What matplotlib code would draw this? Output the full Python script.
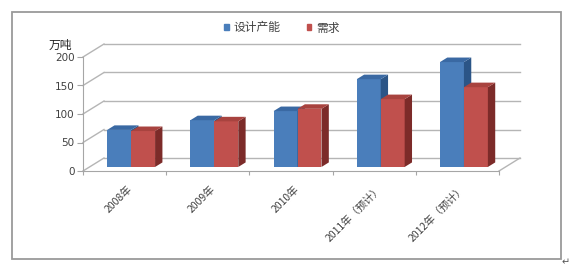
import numpy as np
import matplotlib
matplotlib.use('Agg')
import matplotlib.pyplot as plt
from matplotlib.patches import Polygon, Rectangle

plt.rcParams['font.family'] = ['Noto Sans CJK SC', 'DejaVu Sans']

# --- DATA ---
years = ['2008年', '2009年', '2010年', '2011年（预计）', '2012年（预计）']
capacity = [65, 82, 98, 154, 184]   # 设计产能
demand = [63, 80, 102, 119, 140]    # 需求
series_names = ['设计产能', '需求']
yticks = [0, 50, 100, 150, 200]

# --- STYLE ---
W, H = 585, 275
blue = ('#4a7ebb', '#3a69a3', '#2b5587')   # front, top, side
red = ('#c0504d', '#a8433f', '#7c2b29')
grid_c = '#b5b5b5'
text_c = '#404040'

fig = plt.figure(figsize=(W / 100, H / 100), dpi=100)

# plot area in pixels: front floor x 83..499, y(0)=171, y(200)=57
left, right, y0px, y200px = 83, 499, 171, 57
ax = fig.add_axes([left / W, 1 - y0px / H, (right - left) / W, (y0px - y200px) / H])
ax.set_xlim(-0.5, 4.5)
ax.set_ylim(0, 200)
ax.patch.set_visible(False)

# oblique depth of the floor/wall (pixels -> data units)
px_x = 5 / (right - left)
px_y = 200 / (y0px - y200px)
ddx, ddy = 21 * px_x, 13 * px_y
f = 0.31          # bars stand at this fraction of the depth
bd = 0.35         # bar depth as fraction of the depth
bw = 0.288        # bar width

# back wall gridlines and left wall diagonals
for v in yticks:
    ax.plot([-0.5 + ddx, 4.5 + ddx], [v + ddy, v + ddy], color=grid_c, lw=1.0,
            clip_on=False, zorder=1)
    ax.plot([-0.5, -0.5 + ddx], [v, v + ddy], color=grid_c, lw=1.0,
            clip_on=False, zorder=1)
# floor right edge
ax.plot([4.5, 4.5 + ddx], [0, ddy], color=grid_c, lw=1.0, clip_on=False, zorder=1)


def bar3d(x0, val, cols):
    sx, sy = f * ddx, f * ddy
    bx, by = bd * ddx, bd * ddy
    ax.bar(x0 + sx, val, width=bw, bottom=sy, align='edge', color=cols[0],
           linewidth=0, zorder=3, clip_on=False)
    x1 = x0 + sx + bw
    top = val + sy
    side = Polygon([(x1, sy), (x1 + bx, sy + by), (x1 + bx, top + by), (x1, top)],
                   closed=True, facecolor=cols[2], edgecolor='none', zorder=3, clip_on=False)
    lid = Polygon([(x0 + sx, top), (x1, top), (x1 + bx, top + by), (x0 + sx + bx, top + by)],
                  closed=True, facecolor=cols[1], edgecolor='none', zorder=3, clip_on=False)
    ax.add_patch(side)
    ax.add_patch(lid)


x = np.arange(len(years))
for i in x:
    bar3d(i - bw, capacity[i], blue)
    bar3d(i, demand[i], red)

# axes
for s in ['top', 'right']:
    ax.spines[s].set_visible(False)
ax.spines['left'].set_color('#a6a6a6')
ax.spines['bottom'].set_color('#a6a6a6')
ax.set_yticks(yticks)
ax.tick_params(axis='y', length=4, width=0.8, color='#a6a6a6', pad=2,
               labelsize=7.5, labelcolor=text_c)
for t in ax.get_yticklabels():
    t.set_fontfamily('DejaVu Sans')

ax.set_xticks(np.arange(-0.5, 5, 1.0))
ax.set_xticklabels([])
ax.tick_params(axis='x', which='major', length=3, width=0.8, color='#a6a6a6')
ax.set_xticks(x + 0.03, years, minor=True)
ax.tick_params(axis='x', which='minor', length=0, pad=9, labelsize=7.5, labelcolor=text_c)
for t in ax.get_xticklabels(minor=True):
    t.set_rotation(45)
    t.set_ha('right')
    t.set_va('top')
    t.set_rotation_mode('anchor')

# unit label
fig.text(60 / W, 1 - 45 / H, '万吨', fontsize=8.5, color='#222222', ha='center', va='center')

# legend
handles = [Rectangle((0, 0), 1, 1, color=blue[0]), Rectangle((0, 0), 1, 1, color=red[0])]
fig.legend(handles, series_names, ncol=2, loc='center', bbox_to_anchor=(282 / W, 1 - 28 / H),
           frameon=False, handlelength=0.4, handleheight=0.4, handletextpad=0.4,
           columnspacing=2.2, prop={'size': 8.5}, labelcolor=text_c)

# chart frame and paragraph mark
fig.add_artist(Rectangle((12 / W, 1 - 259 / H), 549 / W, 247 / H, transform=fig.transFigure,
                         fill=False, edgecolor='#9a9a9a', lw=1.3))
fig.text(566 / W, 1 - 262 / H, '↵', fontsize=7, color='#555555', ha='center', va='center',
         family='DejaVu Sans')

fig.savefig('out.png', dpi=100)
